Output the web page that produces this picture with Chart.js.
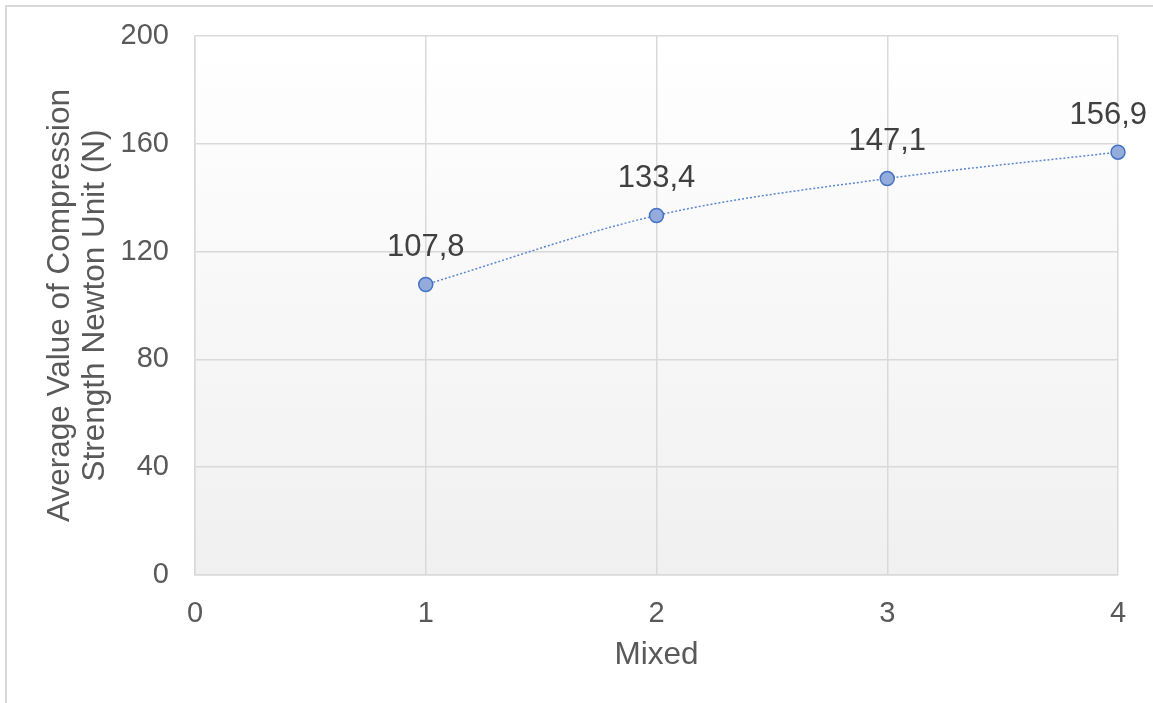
<!DOCTYPE html>
<html>
<head>
<meta charset="utf-8">
<title>Compression Strength</title>
<script src="https://cdn.jsdelivr.net/npm/chart.js@4/dist/chart.umd.min.js"></script>
<style>
    html, body { margin: 0; padding: 0; background: #fff; }
    #wrap { position: relative; width: 1153px; height: 703px; }
</style>
</head>
<body>
<div id="wrap"><canvas id="chart" width="1153" height="703"></canvas></div>
<script>
const mixes = [1, 2, 3, 4];
const strength = [107.8, 133.4, 147.1, 156.9];
const xTicks = [0, 1, 2, 3, 4];
const yTicks = [0, 40, 80, 120, 160, 200];

const FONT = "'Liberation Sans', Arial, sans-serif";
const TEXT = "#595959";
const GRID = "#d9d9d9";

// light frame around the whole chart plus the shaded plot area
const frame = {
    id: "frame",
    beforeDraw(chart) {
        const { ctx, chartArea: a } = chart;
        ctx.save();
        ctx.strokeStyle = GRID;
        ctx.lineWidth = 2;
        ctx.beginPath();
        ctx.moveTo(6, 703);
        ctx.lineTo(6, 6);
        ctx.lineTo(1153, 6);
        ctx.stroke();
        const g = ctx.createLinearGradient(0, a.top, 0, a.bottom);
        g.addColorStop(0, "#ffffff");
        g.addColorStop(1, "#f0f0f0");
        ctx.fillStyle = g;
        ctx.fillRect(a.left, a.top, a.right - a.left, a.bottom - a.top);
        ctx.restore();
    },
};

// value labels above each point, kept inside the canvas
const valueLabels = {
    id: "valueLabels",
    afterDatasetsDraw(chart) {
        const { ctx } = chart;
        const meta = chart.getDatasetMeta(0);
        ctx.save();
        ctx.font = "31px " + FONT;
        ctx.fillStyle = "#404040";
        ctx.textAlign = "center";
        ctx.textBaseline = "middle";
        meta.data.forEach((pt, i) => {
            const txt = strength[i].toFixed(1).replace(".", ",");
            const w = ctx.measureText(txt).width;
            const x = Math.min(pt.x, chart.width - 6 - w / 2);
            ctx.fillText(txt, x, pt.y - 37);
        });
        ctx.restore();
    },
};

new Chart(document.getElementById("chart"), {
    type: "line",
    data: {
        datasets: [
            {
                data: mixes.map((m, i) => ({ x: m, y: strength[i] })),
                borderColor: "#5b87d0",
                borderWidth: 1.5,
                borderDash: [2, 2],
                cubicInterpolationMode: "monotone",
                clip: false,
                pointRadius: 7,
                pointBackgroundColor: "#93acdb",
                pointBorderColor: "#4472c4",
                pointBorderWidth: 1.5,
            },
        ],
    },
    options: {
        responsive: false,
        animation: false,
        layout: { padding: { top: 36, right: 35, left: 0, bottom: 0 } },
        plugins: { legend: { display: false }, tooltip: { enabled: false } },
        scales: {
            x: {
                type: "linear",
                min: 0,
                max: 4,
                afterBuildTicks: (s) => { s.ticks = xTicks.map((v) => ({ value: v })); },
                afterFit: (s) => { s.height = 128; },
                // invisible tick marks keep the labels clear of the axis
                grid: { color: GRID, lineWidth: 1.5, tickColor: "transparent", tickLength: 22 },
                border: { color: GRID, width: 1.5 },
                ticks: { color: TEXT, font: { family: FONT, size: 29 }, padding: 0 },
                title: {
                    display: true,
                    text: "Mixed",
                    color: TEXT,
                    font: { family: FONT, size: 31.5 },
                    padding: { top: 0, bottom: 29 },
                },
            },
            y: {
                min: 0,
                max: 200,
                afterBuildTicks: (s) => { s.ticks = yTicks.map((v) => ({ value: v })); },
                afterFit: (s) => { s.width = 195; },
                grid: { color: GRID, lineWidth: 1.5, tickColor: "transparent", tickLength: 26 },
                border: { color: GRID, width: 1.5 },
                ticks: { color: TEXT, font: { family: FONT, size: 29 }, padding: 0 },
                title: {
                    display: true,
                    text: ["Average Value of Compression", "Strength Newton Unit (N)"],
                    color: TEXT,
                    font: { family: FONT, size: 31.5, lineHeight: 1.1 },
                    padding: { top: 43, bottom: 0 },
                },
            },
        },
    },
    plugins: [frame, valueLabels],
});
</script>
</body>
</html>
